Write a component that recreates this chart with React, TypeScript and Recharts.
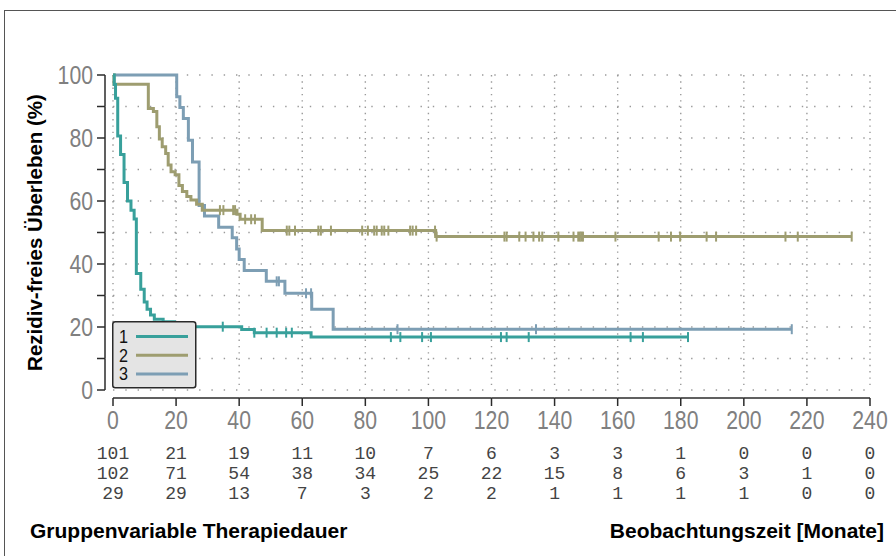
import React from 'react';
import {
  ComposedChart,
  Line,
  Scatter,
  XAxis,
  YAxis,
  CartesianGrid,
  Legend,
} from 'recharts';

// ---- Kaplan–Meier step points (months, survival %) ----
const group1Times = [0, 0.4, 0.8, 1.5, 2.4, 3.5, 4.6, 5.7, 6.7, 7.4, 8.8, 9.9, 10.8, 11.9, 13.1, 15.9, 19.5, 40.8, 44.8, 62.8, 182.3];
const group1Surv = [100, 97, 92.6, 80.6, 74.8, 65.9, 60.0, 57.1, 54.3, 37.0, 32.0, 27.9, 25.6, 23.8, 22.5, 21.7, 20.1, 19.2, 18.2, 16.8, 16.8];
const group1Censored = [34.8, 44.8, 48.7, 51.9, 54.9, 56.7, 88.1, 91.1, 98.0, 100.8, 123.0, 124.8, 131.8, 164.1, 168.0, 182.3];

const group2Times = [0, 0.3, 11.2, 12.8, 13.9, 14.7, 15.6, 16.7, 17.5, 18.4, 19.7, 20.9, 22.0, 23.4, 24.7, 26.5, 28.3, 39.3, 40.3, 47.3, 102.3, 234.2];
const group2Surv = [100, 97.1, 89.4, 88.4, 83.6, 79.7, 77.2, 75.1, 71.4, 69.3, 68.3, 64.9, 63.0, 61.4, 60.3, 59.0, 57.1, 55.8, 54.2, 50.6, 48.7, 48.7];
const group2Censored = [
  33.9, 35.0, 38.1, 38.7, 41.9, 43.8, 45.0, 55.1, 55.9, 57.7, 65.1, 65.9, 69.1,
  79.0, 80.8, 82.8, 83.6, 85.2, 86.0, 87.3, 94.2, 95.0, 96.1, 102.1, 102.6,
  124.1, 124.8, 128.8, 130.8, 133.3, 135.1, 136.1, 141.2, 146.0, 147.5, 148.0,
  148.5, 149.0, 159.3, 173.0, 176.9, 179.8, 188.2, 191.2, 213.2, 217.1, 234.2,
];

const group3Times = [0, 20.2, 21.2, 22.3, 23.9, 25.2, 27.3, 29.0, 33.5, 37.8, 39.2, 40.0, 41.6, 48.6, 54.5, 63.0, 69.8, 215.2];
const group3Surv = [100, 93.1, 89.7, 86.2, 79.3, 72.4, 58.6, 55.2, 51.7, 48.3, 44.8, 41.4, 37.9, 34.5, 30.7, 25.6, 19.3, 19.3];
const group3Censored = [51.9, 52.6, 61.2, 62.8, 90.2, 134.1, 215.2];

// ---- Axis ticks and numbers at risk ----
const xTicks = [0, 20, 40, 60, 80, 100, 120, 140, 160, 180, 200, 220, 240];
const yTicks = [0, 10, 20, 30, 40, 50, 60, 70, 80, 90, 100];
const atRisk1 = [101, 21, 19, 11, 10, 7, 6, 3, 3, 1, 0, 0, 0];
const atRisk2 = [102, 71, 54, 38, 34, 25, 22, 15, 8, 6, 3, 1, 0];
const atRisk3 = [29, 29, 13, 7, 3, 2, 2, 1, 1, 1, 1, 0, 0];

const groupLabels = ['1', '2', '3'];
const COLORS = ['#38a09b', '#9e9d70', '#7d9eb4'];

// ---- Layout ----
const W = 896;
const H = 556;
const MARGIN = { top: 75, right: 26, bottom: 165, left: 112 };
const PLOT_LEFT = 113;
const PLOT_W = 757;
const PLOT_H = 315;
const AXIS_GAP = 8;
const TICK_LEN = 8;
const AXIS_COLOR = '#2b2b2b';
const TICK_FONT = "'Liberation Sans', Arial, sans-serif";
const TICK_CHAR_W = 11.8;
const MONO_FONT = "'Liberation Mono', 'DejaVu Sans Mono', monospace";
const BOLD_FONT = "'Liberation Sans', Arial, sans-serif";

const toPoints = (times: number[], surv: number[]) =>
  times.map((t, i) => ({ t, s: surv[i] }));

const survivalAt = (times: number[], surv: number[], t: number) => {
  let v = surv[0];
  for (let i = 0; i < times.length; i++) if (times[i] <= t) v = surv[i];
  return v;
};

const toCensorMarks = (times: number[], surv: number[], censored: number[]) =>
  censored.map((t) => ({ t, s: survivalAt(times, surv, t) }));

const curves = [
  { line: toPoints(group1Times, group1Surv), marks: toCensorMarks(group1Times, group1Surv, group1Censored) },
  { line: toPoints(group2Times, group2Surv), marks: toCensorMarks(group2Times, group2Surv, group2Censored) },
  { line: toPoints(group3Times, group3Surv), marks: toCensorMarks(group3Times, group3Surv, group3Censored) },
];
const atRiskRows = [atRisk1, atRisk2, atRisk3];

const censorShape = (color: string) => (props: any) => {
  const { cx, cy } = props;
  return <line x1={cx} x2={cx} y1={cy - 5} y2={cy + 5} stroke={color} strokeWidth={2} />;
};

// Bottom axis: offset axis line, tick marks, tick label and the three numbers-at-risk rows
const renderXTick = (props: any) => {
  const { x, payload } = props;
  const i = xTicks.indexOf(payload.value);
  const base = MARGIN.top + PLOT_H;
  const ay = base + AXIS_GAP;
  const step = PLOT_W / (xTicks.length - 1);
  const label = String(payload.value);
  return (
    <g key={`xt-${i}`}>
      <line x1={x} x2={x} y1={ay} y2={ay + TICK_LEN} stroke={AXIS_COLOR} strokeWidth={1.5} />
      {i < xTicks.length - 1 && (
        <line x1={x} x2={x + step} y1={ay} y2={ay} stroke={AXIS_COLOR} strokeWidth={1.5} />
      )}
      <text
        x={x}
        y={base + 39}
        textAnchor="middle"
        fontFamily={TICK_FONT}
        fontSize={25}
        fill="#808080"
        textLength={label.length * TICK_CHAR_W}
        lengthAdjust="spacingAndGlyphs"
      >
        {label}
      </text>
      {atRiskRows.map((row, r) => (
        <text
          key={r}
          x={x}
          y={base + 69 + r * 20}
          textAnchor="middle"
          fontFamily={MONO_FONT}
          fontSize={18}
          fill="#444"
        >
          {row[i]}
        </text>
      ))}
    </g>
  );
};

// Left axis: offset axis line, ticks every 10 %, labels every 20 %
const renderYTick = (props: any) => {
  const { y, payload } = props;
  const v = payload.value;
  const ax = PLOT_LEFT - AXIS_GAP;
  const step = PLOT_H / (yTicks.length - 1);
  const label = String(v);
  return (
    <g key={`yt-${v}`}>
      <line x1={ax - TICK_LEN} x2={ax} y1={y} y2={y} stroke={AXIS_COLOR} strokeWidth={1.5} />
      {v < 100 && <line x1={ax} x2={ax} y1={y} y2={y - step} stroke={AXIS_COLOR} strokeWidth={1.5} />}
      {v % 20 === 0 && (
        <text
          x={ax - TICK_LEN - 4}
          y={y + 9}
          textAnchor="end"
          fontFamily={TICK_FONT}
          fontSize={25}
          fill="#808080"
          textLength={label.length * TICK_CHAR_W}
          lengthAdjust="spacingAndGlyphs"
        >
          {label}
        </text>
      )}
    </g>
  );
};

const renderYTitle = () => {
  const cx = 34;
  const cy = MARGIN.top + PLOT_H / 2;
  return (
    <text
      x={cx}
      y={cy}
      transform={`rotate(-90 ${cx} ${cy})`}
      textAnchor="middle"
      dominantBaseline="central"
      fontFamily={BOLD_FONT}
      fontWeight="bold"
      fontSize={20.5}
      fill="#000"
    >
      Rezidiv-freies Überleben (%)
    </text>
  );
};

const renderFooter = () => (
  <g>
    <text x={30} y={538} fontFamily={BOLD_FONT} fontWeight="bold" fontSize={21} fill="#000">
      Gruppenvariable Therapiedauer
    </text>
    <text x={884} y={538} textAnchor="end" fontFamily={BOLD_FONT} fontWeight="bold" fontSize={21} fill="#000">
      Beobachtungszeit [Monate]
    </text>
  </g>
);

const LegendBox = () => (
  <svg width={85} height={68} style={{ display: 'block' }}>
    <rect x={0.75} y={0.75} width={83} height={66} rx={2.5} fill="#e4e4e4" stroke="#2a2a2a" strokeWidth={1.5} />
    {groupLabels.map((g, i) => (
      <g key={g}>
        <text
          x={7}
          y={22 + i * 18.7}
          fontFamily={TICK_FONT}
          fontSize={18}
          fill="#111"
          textLength={9}
          lengthAdjust="spacingAndGlyphs"
        >
          {g}
        </text>
        <line x1={24} x2={76} y1={15.5 + i * 18.7} y2={15.5 + i * 18.7} stroke={COLORS[i]} strokeWidth={3} />
      </g>
    ))}
  </svg>
);

export default function App() {
  const drawOrder = [2, 1, 0];
  return (
    <div style={{ position: 'absolute', left: 0, top: 0, width: W, height: H, background: '#fff', overflow: 'hidden' }}>
      <div
        style={{
          position: 'absolute',
          left: 4,
          top: 10,
          width: 910,
          height: 570,
          borderLeft: '1.5px solid #555',
          borderTop: '1.5px solid #555',
        }}
      />
      <div style={{ position: 'absolute', left: 0, top: 0 }}>
        <ComposedChart width={W} height={H} margin={MARGIN}>
          <CartesianGrid horizontal vertical={false} stroke="#9a9a9a" strokeWidth={1.4} strokeDasharray="1.4 10.9" />
          <CartesianGrid horizontal={false} vertical stroke="#9a9a9a" strokeWidth={1.4} strokeDasharray="1.4 4.9" />
          <XAxis
            type="number"
            dataKey="t"
            domain={[0, 240]}
            ticks={xTicks}
            interval={0}
            height={1}
            tickSize={0}
            tickMargin={0}
            axisLine={false}
            tickLine={false}
            tick={renderXTick}
            label={renderFooter}
          />
          <YAxis
            type="number"
            dataKey="s"
            domain={[0, 100]}
            ticks={yTicks}
            interval={0}
            width={1}
            tickSize={0}
            tickMargin={0}
            axisLine={false}
            tickLine={false}
            tick={renderYTick}
            label={renderYTitle}
          />
          {drawOrder.map((g) => (
            <Line
              key={`line-${g}`}
              data={curves[g].line}
              dataKey="s"
              type="stepAfter"
              stroke={COLORS[g]}
              strokeWidth={3}
              dot={false}
              activeDot={false}
              isAnimationActive={false}
            />
          ))}
          {drawOrder.map((g) => (
            <Scatter
              key={`cens-${g}`}
              data={curves[g].marks}
              dataKey="s"
              shape={censorShape(COLORS[g])}
              isAnimationActive={false}
            />
          ))}
          <Legend
            layout="vertical"
            align="center"
            verticalAlign="middle"
            content={<LegendBox />}
            wrapperStyle={{ left: 112, top: 321, width: 85, height: 68 }}
          />
        </ComposedChart>
      </div>
    </div>
  );
}
